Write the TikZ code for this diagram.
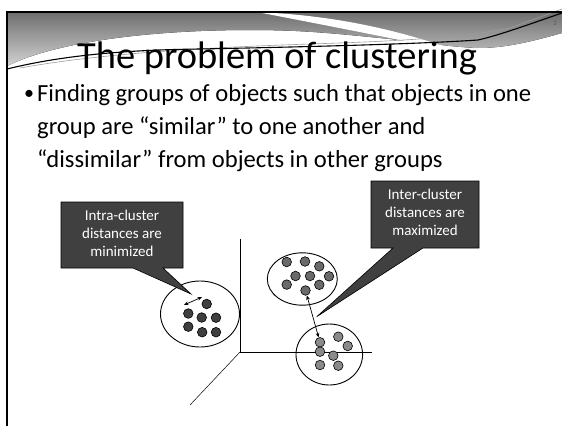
\documentclass[tikz,border=0pt]{standalone}
\usepackage{fontspec}
\setmainfont{Carlito}
\usetikzlibrary{arrows.meta}
\definecolor{hdrtop}{HTML}{6E6E6E}
\definecolor{hdrbot}{HTML}{D2D2D2}
\definecolor{calloutfill}{HTML}{404040}
\definecolor{dotdark}{HTML}{3F3F3F}
\definecolor{dotmid}{HTML}{6A6A6A}
\definecolor{dotlight}{HTML}{8A8A8A}
\definecolor{numgray}{HTML}{5A5A5A}
\tikzset{
  dotbase/.style={circle,draw=black,line width=0.6pt,minimum size=9.6pt,inner sep=0pt},
  dotA/.style={dotbase,fill=dotdark},
  dotB/.style={dotbase,fill=dotmid},
  dotC/.style={dotbase,fill=dotlight},
  clusterring/.style={draw=black,line width=0.9pt},
  axisline/.style={draw=black,line width=0.8pt},
  distarrow/.style={draw=black,line width=0.7pt,{Stealth[length=4.5pt,width=3.8pt]}-{Stealth[length=4.5pt,width=3.8pt]}},
  calloutshape/.style={draw=black,line width=0.6pt,fill=calloutfill},
  callouttext/.style={text=white,align=center,inner sep=0pt,font=\fontsize{15}{18}\selectfont},
  bodytext/.style={anchor=base west,inner sep=0pt,font=\fontsize{24.6}{33}\selectfont},
}
\begin{document}
\begin{tikzpicture}[x=1pt,y=-1pt]
\useasboundingbox (0,0) rectangle (562,426);
\fill[white] (0,0) rectangle (562,426);
% header
\fill[top color=hdrtop,bottom color=hdrbot] (7,12) -- (562,12) -- (562,33)
  .. controls (530,42) and (505,48) .. (478,48)
  .. controls (450,47) and (420,42) .. (380,38)
  .. controls (330,33) and (300,30) .. (250,30)
  .. controls (160,30) and (60,40) .. (7,66) -- cycle;
\fill[white] (250,12) .. controls (330,14) and (400,30) .. (460,52)
  .. controls (400,40) and (330,26) .. (262,13) -- cycle;
\draw[numgray!60,line width=0.6pt] (20,68) .. controls (120,50) and (250,46) .. (340,43)
  .. controls (420,40) and (470,36) .. (510,28) -- (562,9);
\draw[black,line width=1.1pt] (7,69) .. controls (60,56) and (120,50) .. (200,49)
  .. controls (300,47) and (420,44) .. (478,40)
  .. controls (500,35) and (530,24) .. (562,13);
\node[anchor=base,inner sep=0pt,text=numgray,font=\fontsize{7}{8}\selectfont] (num) at (555,25) {3};
\draw[black,line width=2.2pt] (7,426) -- (7,12) -- (562,12);
% title
\node[anchor=base west,inner sep=0pt,font=\fontsize{38.4}{40}\selectfont] (title) at (77,68) {The problem of clustering};
% bullet text
\node[anchor=base west,inner sep=0pt,font=\fontsize{20}{24}\selectfont] (bul) at (24,99) {•};
\node[bodytext] (l1) at (37,101) {Finding groups of objects such that objects in one};
\node[bodytext] (l2) at (37,134) {group are “similar” to one another and};
\node[bodytext] (l3) at (37,167) {“dissimilar” from objects in other groups};
% axes
\coordinate (O) at (240,352);
\coordinate (Ytop) at (240,239);
\coordinate (Xend) at (372,352);
\coordinate (Zend) at (190,405);
\draw[axisline] (Ytop) -- (O) -- (Xend);
\draw[black,line width=0.5pt] (O) -- (Zend);
% clusters
\draw[clusterring] (200,314) ellipse [x radius=39.5,y radius=33];
\draw[clusterring] (302.3,279) ellipse [x radius=35,y radius=26.2];
\draw[clusterring] (329.3,354.5) ellipse [x radius=33.3,y radius=30.5];
% left cluster dots
\node[dotA] (a1) at (206.7,304) {};
\node[dotA] (a2) at (188.3,313.5) {};
\node[dotA] (a3) at (201.7,317.5) {};
\node[dotA] (a4) at (216,317.7) {};
\node[dotA] (a5) at (188.3,326.7) {};
\node[dotA] (a6) at (202.2,332.2) {};
\node[dotA] (a7) at (216,332.2) {};
% upper right dots
\node[dotB] (b1) at (286.7,262) {};
\node[dotB] (b2) at (305,261.5) {};
\node[dotB] (b3) at (319.3,266.3) {};
\node[dotB] (b4) at (295.5,276) {};
\node[dotB] (b5) at (310,276) {};
\node[dotB] (b6) at (329,276.3) {};
\node[dotB] (b7) at (286.7,284.6) {};
\node[dotB] (b8) at (319.3,284.8) {};
\node[dotB] (b9) at (305.5,290.5) {};
% lower right dots
\node[dotC] (c1) at (320,342.3) {};
\node[dotC] (c2) at (338.3,336.7) {};
\node[dotC] (c3) at (347.7,346) {};
\node[dotC] (c4) at (320,351.7) {};
\node[dotC] (c5) at (333.3,355.7) {};
\node[dotC] (c6) at (320,365) {};
\node[dotC] (c7) at (338.3,365.7) {};
% distance arrows
\coordinate (ia1) at (184,305);
\coordinate (ia2) at (202,297);
\draw[distarrow] (ia1) -- (ia2);
\draw[distarrow] (b9) -- (c1);
% left callout
\coordinate (lbw) at (133,268);
\coordinate (lbe) at (163,268);
\coordinate (ltip) at (191,294);
\draw[calloutshape] (61,202) -- (183,202) -- (183,268) -- (lbe) -- (ltip) -- (lbw) -- (61,268) -- cycle;
\node[callouttext] (lc) at (122,233.5) {Intra-cluster\\distances are\\minimized};
% right callout
\coordinate (rbw) at (393,248);
\coordinate (rbe) at (423,248);
\coordinate (rtip) at (316.7,316.7);
\draw[calloutshape] (371,181) -- (479,181) -- (479,248) -- (rbe) -- (rtip) -- (rbw) -- (371,248) -- cycle;
\node[callouttext] (rc) at (425,212.5) {Inter-cluster\\distances are\\maximized};
\end{tikzpicture}
\end{document}
